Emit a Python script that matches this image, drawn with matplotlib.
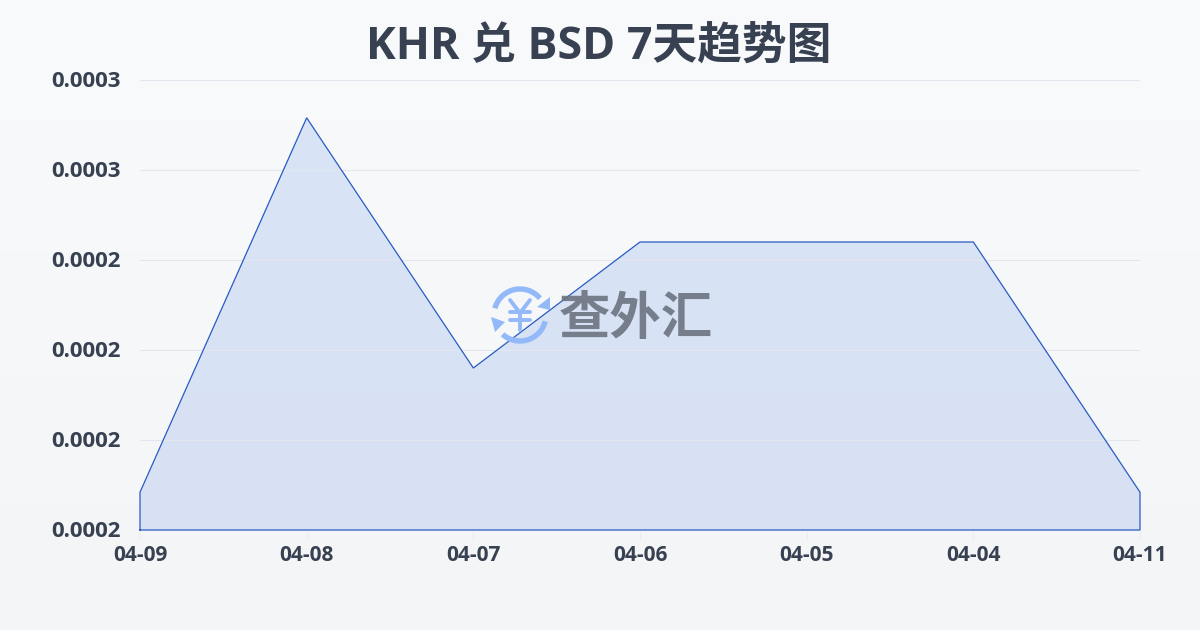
import numpy as np
import matplotlib
matplotlib.use("Agg")
import matplotlib.pyplot as plt
from matplotlib.colors import LinearSegmentedColormap
from matplotlib.patches import Arc, Polygon
from matplotlib.transforms import ScaledTranslation

dates = ["04-09", "04-08", "04-07", "04-06", "04-05", "04-04", "04-11"]
rates = [0.0002142, 0.0002558, 0.0002280, 0.0002420, 0.0002420, 0.0002420, 0.0002142]
y_ticks = [0.00021, 0.00022, 0.00023, 0.00024, 0.00025, 0.00026]
y_labels = ["0.0002", "0.0002", "0.0002", "0.0002", "0.0003", "0.0003"]
title = "KHR 兑 BSD 7天趋势图"
brand = "查外汇"

FAM = ["Open Sans", "Noto Sans CJK SC", "DejaVu Sans"]
INK = "#374151"

fig = plt.figure(figsize=(12, 6.3), dpi=100)

bg = fig.add_axes([0, 0, 1, 1], zorder=0)
bg.imshow(np.linspace(0, 1, 256).reshape(-1, 1), aspect="auto", extent=[0, 1, 0, 1],
          cmap=LinearSegmentedColormap.from_list("bg", ["#f9fafc", "#f3f5f7"]))
bg.axis("off")

ax = fig.add_axes([140 / 1200, 1 - 530 / 630, 1000 / 1200, 450 / 630], zorder=1)
ax.patch.set_alpha(0)
x = np.arange(len(dates))
ax.set_xlim(0, len(dates) - 1)
ax.set_ylim(y_ticks[0], y_ticks[-1])

ax.grid(axis="y", color="#e3e6ec", lw=0.8, zorder=3)
ax.set_axisbelow(False)
area = ax.fill_between(x, rates, y_ticks[0], color="none", lw=0, zorder=2)
grad = ax.imshow(np.linspace(0, 1, 256).reshape(-1, 1), aspect="auto", zorder=2,
                 extent=[x[0], x[-1], y_ticks[0], max(rates)],
                 cmap=LinearSegmentedColormap.from_list("fill", ["#d8e4f7", "#d9e1f4"]))
grad.set_clip_path(area.get_paths()[0], transform=ax.transData)
ax.set_xlim(0, len(dates) - 1)
ax.set_ylim(y_ticks[0], y_ticks[-1])
ax.plot(np.r_[x[0], x, x[-1], x[0]], np.r_[y_ticks[0], rates, y_ticks[0], y_ticks[0]],
        color="#2a5bc4", lw=0.9, zorder=6, clip_on=False, solid_joinstyle="miter")

for s in ax.spines.values():
    s.set_visible(False)
ax.set_xticks(x, dates)
ax.set_yticks(y_ticks, y_labels)
ax.tick_params(axis="x", length=7, width=0.8, color="#eceef1", pad=4, labelsize=15, labelcolor=INK)
ax.tick_params(axis="y", length=0, pad=13.5, labelsize=16, labelcolor=INK)
for t in ax.get_xticklabels() + ax.get_yticklabels():
    t.set_family(FAM)
    t.set_fontweight("bold")
shift = ScaledTranslation(0, 1 / 72, fig.dpi_scale_trans)
for t in ax.get_yticklabels():
    t.set_transform(t.get_transform() + shift)

fig.text(0.4985, 1 - 47 / 630, title, ha="center", va="center", fontsize=32.2, fontweight="bold",
         color=INK, family=FAM, zorder=5)

# watermark: overlay axes in pixel coordinates
wm = fig.add_axes([0, 0, 1, 1], zorder=2)
wm.set_xlim(0, 1200)
wm.set_ylim(630, 0)
wm.axis("off")
BLUE = "#93b9f8"
cx, cy, r = 520, 315, 26
wm.add_patch(Arc((cx, cy), 2 * r, 2 * r, theta1=195, theta2=320, color=BLUE, lw=3.9))
wm.add_patch(Arc((cx, cy), 2 * r, 2 * r, theta1=14, theta2=132, color=BLUE, lw=3.9))
wm.add_patch(Polygon([[550, 297], [550, 310], [537, 307]], color=BLUE, lw=0))
wm.add_patch(Polygon([[491, 317], [505, 322], [495, 332]], color=BLUE, lw=0))
for xs, ys in [([510, 520, 530], [300, 313, 300]), ([510, 530], [312, 312]),
               ([510, 530], [320, 320]), ([520, 520], [313, 330])]:
    wm.plot(xs, ys, color=BLUE, lw=2.8, solid_capstyle="round")
wm.text(636, 321, brand, ha="center", va="center", fontsize=37, fontweight="bold",
        color="#6b7280", alpha=0.9, family=FAM)

fig.savefig("out.png", dpi=100)
